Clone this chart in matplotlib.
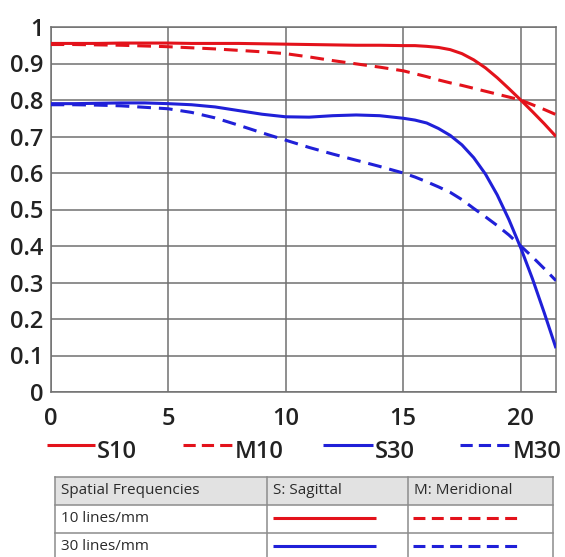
import matplotlib.pyplot as plt
from matplotlib.lines import Line2D
from matplotlib.patches import Rectangle

# spatial frequency position (mm from image centre)
x = [0, 1, 2, 3, 4, 5, 6, 7, 8, 9, 10, 11, 12, 13, 14, 15,
     15.5, 16, 16.5, 17, 17.5, 18, 18.5, 19, 19.5, 20, 20.5, 21, 21.5]

s10 = [0.955, 0.955, 0.955, 0.956, 0.956, 0.956, 0.955, 0.955, 0.955, 0.954,
       0.953, 0.952, 0.951, 0.950, 0.950, 0.949,
       0.949, 0.947, 0.944, 0.938, 0.927, 0.910, 0.888, 0.861, 0.831, 0.800,
       0.768, 0.735, 0.700]
m10 = [0.952, 0.952, 0.951, 0.950, 0.948, 0.946, 0.943, 0.940, 0.936, 0.932,
       0.927, 0.918, 0.908, 0.899, 0.890, 0.880,
       0.872, 0.864, 0.855, 0.847, 0.840, 0.832, 0.824, 0.816, 0.808, 0.800,
       0.787, 0.774, 0.760]
s30 = [0.790, 0.790, 0.791, 0.792, 0.792, 0.790, 0.787, 0.781, 0.771, 0.761,
       0.754, 0.753, 0.757, 0.759, 0.757, 0.750,
       0.745, 0.737, 0.722, 0.703, 0.677, 0.642, 0.597, 0.540, 0.472, 0.395,
       0.310, 0.217, 0.120]
m30 = [0.787, 0.787, 0.786, 0.784, 0.780, 0.776, 0.766, 0.751, 0.731, 0.710,
       0.690, 0.670, 0.652, 0.635, 0.618, 0.600,
       0.589, 0.576, 0.562, 0.547, 0.527, 0.503, 0.480, 0.456, 0.430, 0.400,
       0.370, 0.338, 0.305]

xticks = [0, 5, 10, 15, 20]
yticks = [0, 0.1, 0.2, 0.3, 0.4, 0.5, 0.6, 0.7, 0.8, 0.9, 1]
ytick_labels = ["0", "0.1", "0.2", "0.3", "0.4", "0.5", "0.6", "0.7", "0.8", "0.9", "1"]

legend_labels = ["S10", "M10", "S30", "M30"]
table_header = ["Spatial Frequencies", "S: Sagittal", "M: Meridional"]
table_rows = ["10 lines/mm", "30 lines/mm"]

RED = "#e3121b"
BLUE = "#2020d8"
GRID = "#707070"
W, H = 565, 557

plt.rcParams["font.family"] = ["Open Sans", "DejaVu Sans"]

fig = plt.figure(figsize=(W / 100, H / 100), dpi=100)
ax = fig.add_axes([50.5 / W, 1 - 392 / H, (556 - 50.5) / W, (392 - 27) / H])

ax.plot(x, s10, color=RED, lw=2.2, solid_capstyle="butt", zorder=3)
ax.plot(x, m10, color=RED, lw=2.2, dashes=(4.5, 2.6), zorder=3)
ax.plot(x, s30, color=BLUE, lw=2.2, solid_capstyle="butt", zorder=3)
ax.plot(x, m30, color=BLUE, lw=2.2, dashes=(4.5, 2.6), zorder=3)

ax.set_xlim(0, 21.5)
ax.set_ylim(0, 1)
ax.set_xticks(xticks)
ax.set_yticks(yticks)
ax.set_yticklabels(ytick_labels)
ax.grid(True, color=GRID, lw=1.1, zorder=1)
ax.set_axisbelow(True)
for sp in ax.spines.values():
    sp.set_color(GRID)
    sp.set_linewidth(1.1)
ax.tick_params(axis="both", length=0, labelsize=17, colors="#222222")
ax.tick_params(axis="y", pad=5)
ax.tick_params(axis="x", pad=11)
for lab in ax.get_xticklabels() + ax.get_yticklabels():
    lab.set_fontweight("semibold")


def fx(px):
    return px / W


def fy(py):
    return 1 - py / H


# legend row
leg_pos = [(47, 95, 97), (183, 233, 235), (323, 373, 375), (460, 512, 513)]
leg_col = [RED, RED, BLUE, BLUE]
leg_dash = [None, (4, 2), None, (4, 2)]
for lab, (x0, x1, xt), c, d in zip(legend_labels, leg_pos, leg_col, leg_dash):
    ln = Line2D([fx(x0), fx(x1)], [fy(445), fy(445)], transform=fig.transFigure,
                color=c, lw=2.2, solid_capstyle="butt")
    if d:
        ln.set_dashes(d)
    fig.add_artist(ln)
    fig.text(fx(xt), fy(448.5), lab, fontsize=17, fontweight="semibold",
             color="#222222", ha="left", va="center_baseline")

# key table
col_x = [55, 267, 408, 553]
row_y = [477, 505, 533, 561]
fig.add_artist(Rectangle((fx(55), fy(505)), fx(553) - fx(55), fy(477) - fy(505),
                         transform=fig.transFigure, facecolor="#e2e2e2",
                         edgecolor="none", zorder=0))
for cx in col_x:
    fig.add_artist(Line2D([fx(cx), fx(cx)], [fy(477), fy(561)],
                          transform=fig.transFigure, color="#8c8c8c", lw=1.1))
for ry in row_y[:3]:
    fig.add_artist(Line2D([fx(55), fx(553)], [fy(ry), fy(ry)],
                          transform=fig.transFigure, color="#8c8c8c", lw=1.1))

for i, txt in enumerate(table_header):
    fig.text(fx(col_x[i] + 6), fy(491), txt, fontsize=11, color="#2a2a2a",
             ha="left", va="center")
for j, txt in enumerate(table_rows):
    yc = (row_y[j + 1] + row_y[j + 2]) / 2
    fig.text(fx(61), fy(yc), txt, fontsize=11, color="#2a2a2a",
             ha="left", va="center")
    c = RED if j == 0 else BLUE
    fig.add_artist(Line2D([fx(273), fx(376)], [fy(yc - 1), fy(yc - 1)],
                          transform=fig.transFigure, color=c, lw=2.2,
                          solid_capstyle="butt"))
    fig.add_artist(Line2D([fx(413), fx(519)], [fy(yc - 1), fy(yc - 1)],
                          transform=fig.transFigure, color=c, lw=2.2,
                          dashes=(3.9, 2.1)))

fig.savefig("out.png", dpi=100)
